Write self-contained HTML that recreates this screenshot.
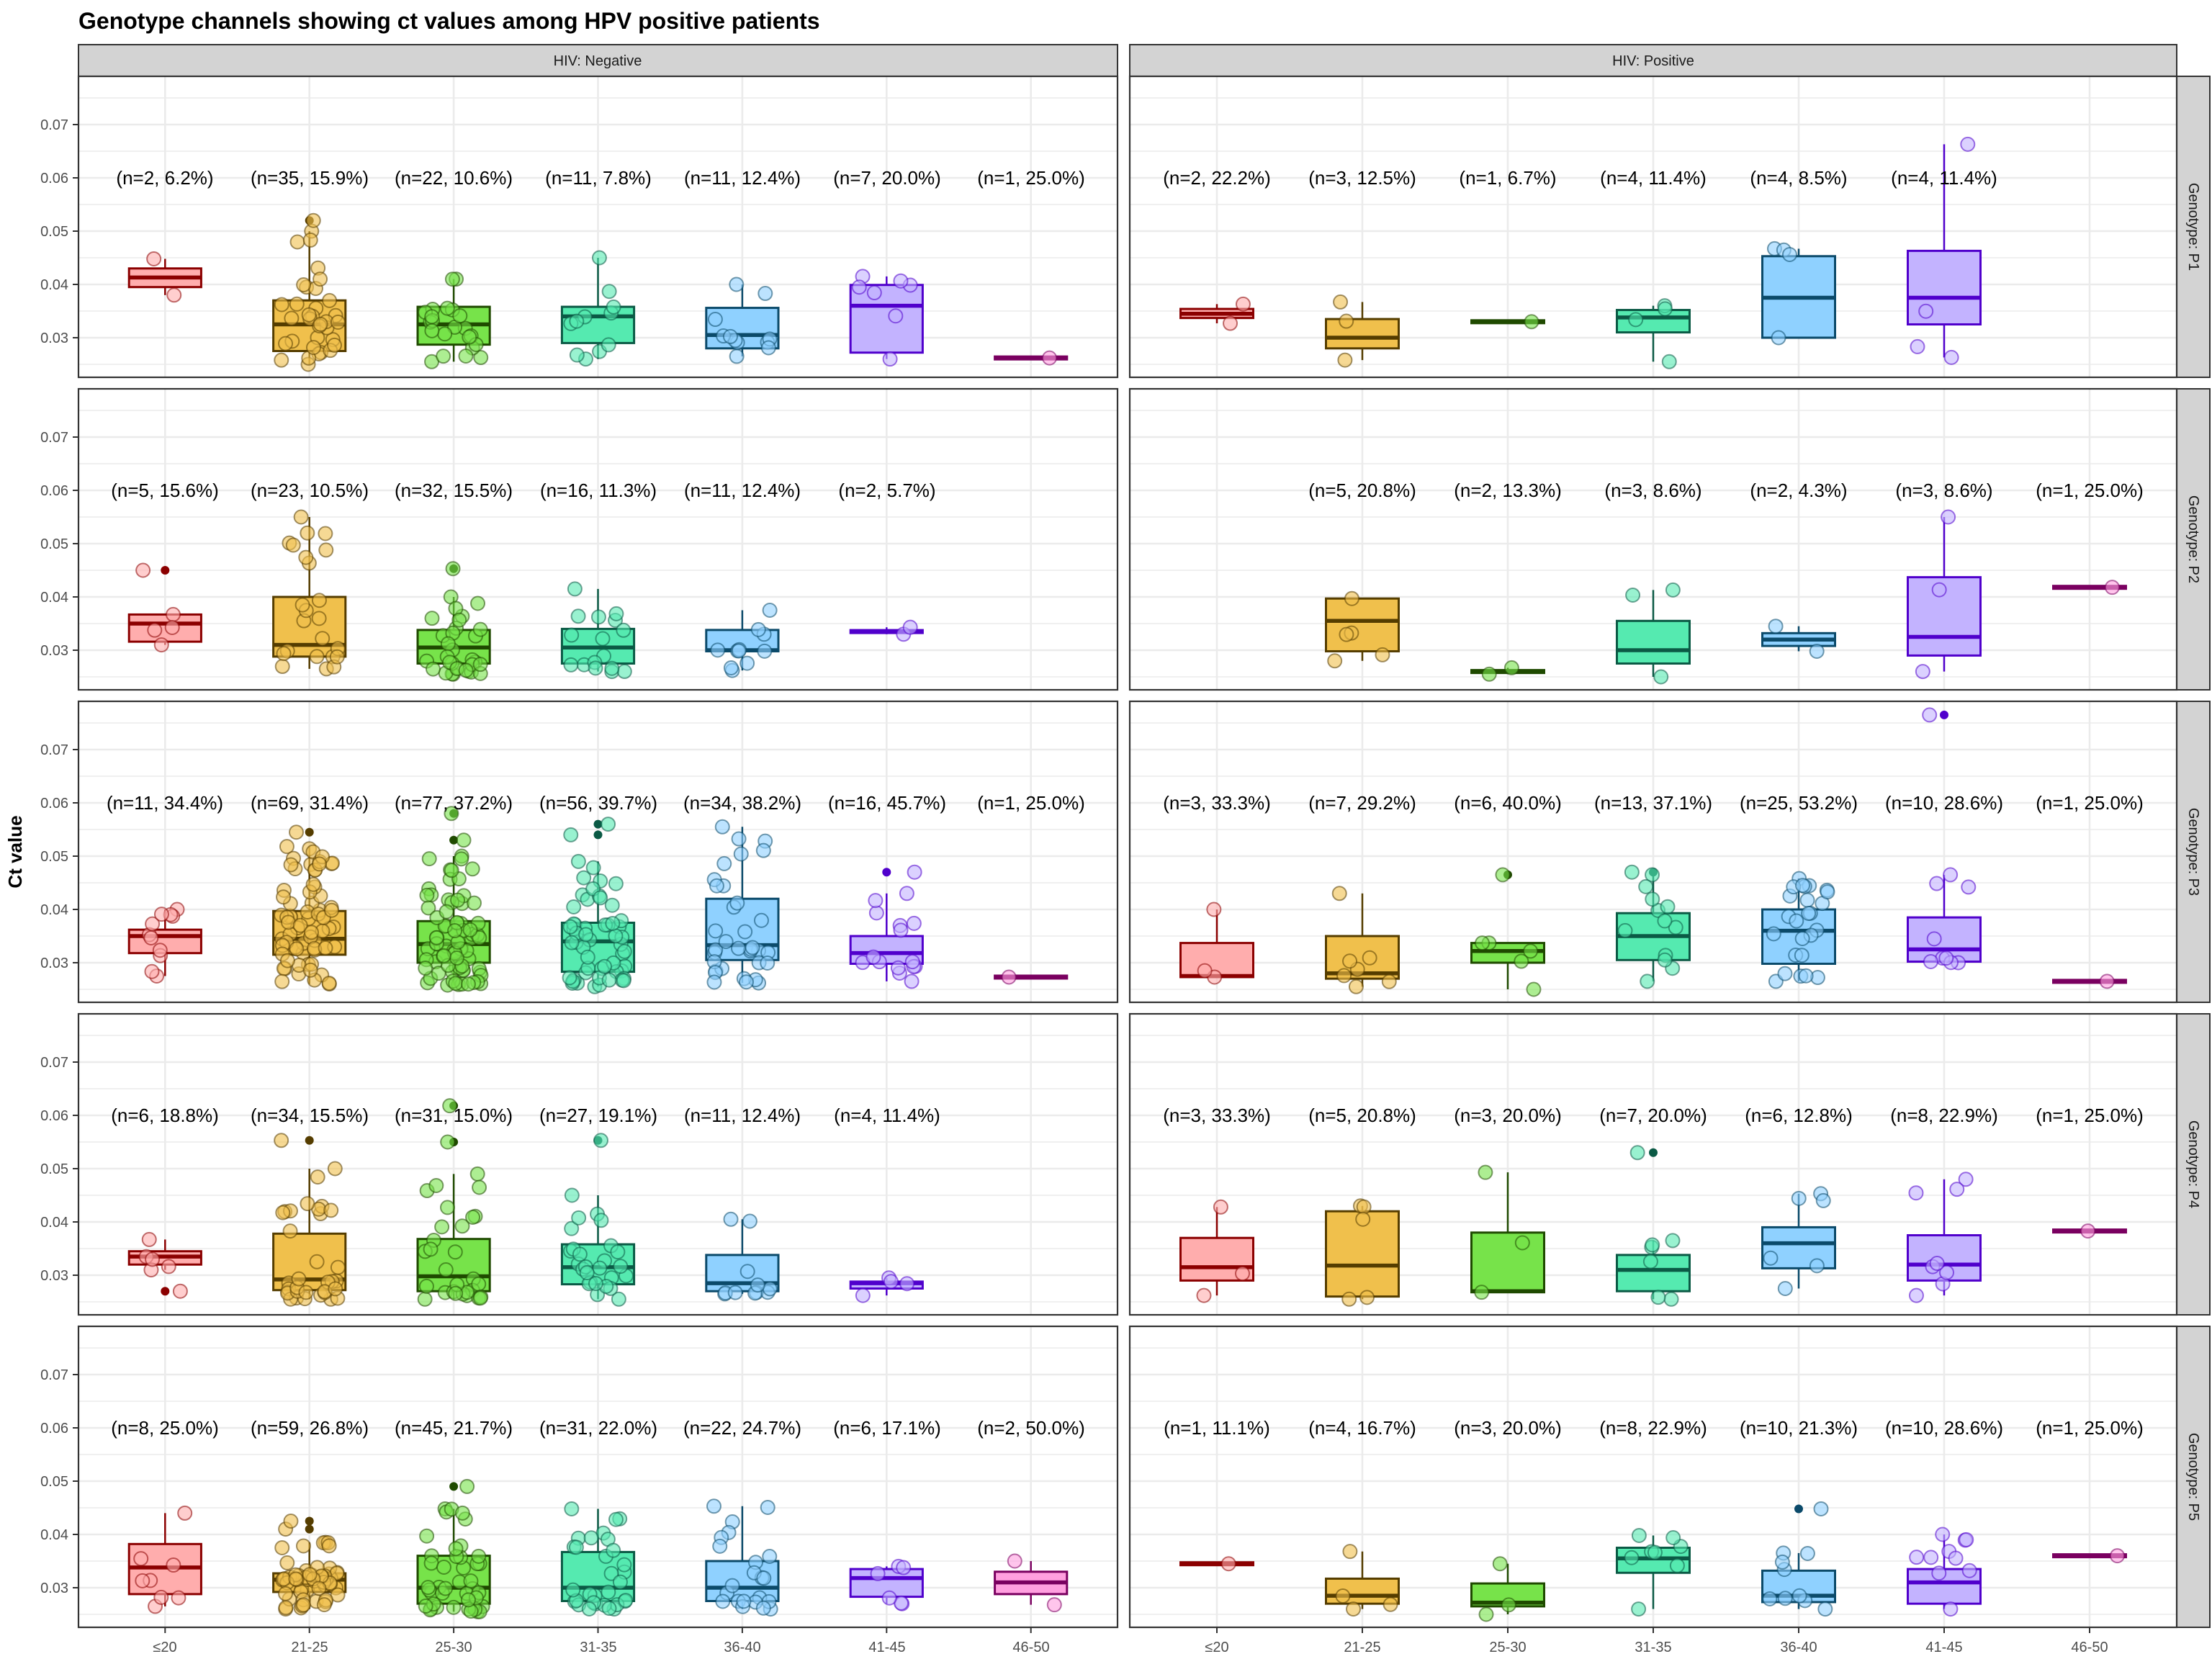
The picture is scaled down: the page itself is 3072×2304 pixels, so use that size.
<!DOCTYPE html>
<html><head><meta charset="utf-8">
<style>
html,body{margin:0;padding:0;background:#fff;}
svg{display:block;}
text{font-family:"Liberation Sans",sans-serif;}
</style></head>
<body>
<svg id="s" width="3072" height="2304" viewBox="0 0 3072 2304" xmlns="http://www.w3.org/2000/svg">
<g id="bg"></g>
<g id="fg"></g>
<g id="labels" font-size="26" fill="#000" text-anchor="middle">
<!-- Row 1 P1 -->
<text x="229" y="256">(n=2, 6.2%)</text><text x="430" y="256">(n=35, 15.9%)</text><text x="630" y="256">(n=22, 10.6%)</text><text x="831" y="256">(n=11, 7.8%)</text><text x="1031" y="256">(n=11, 12.4%)</text><text x="1232" y="256">(n=7, 20.0%)</text><text x="1432" y="256">(n=1, 25.0%)</text>
<text x="1690" y="256">(n=2, 22.2%)</text><text x="1892" y="256">(n=3, 12.5%)</text><text x="2094" y="256">(n=1, 6.7%)</text><text x="2296" y="256">(n=4, 11.4%)</text><text x="2498" y="256">(n=4, 8.5%)</text><text x="2700" y="256">(n=4, 11.4%)</text>
<!-- Row 2 P2 -->
<text x="229" y="690">(n=5, 15.6%)</text><text x="430" y="690">(n=23, 10.5%)</text><text x="630" y="690">(n=32, 15.5%)</text><text x="831" y="690">(n=16, 11.3%)</text><text x="1031" y="690">(n=11, 12.4%)</text><text x="1232" y="690">(n=2, 5.7%)</text>
<text x="1892" y="690">(n=5, 20.8%)</text><text x="2094" y="690">(n=2, 13.3%)</text><text x="2296" y="690">(n=3, 8.6%)</text><text x="2498" y="690">(n=2, 4.3%)</text><text x="2700" y="690">(n=3, 8.6%)</text><text x="2902" y="690">(n=1, 25.0%)</text>
<!-- Row 3 P3 -->
<text x="229" y="1124">(n=11, 34.4%)</text><text x="430" y="1124">(n=69, 31.4%)</text><text x="630" y="1124">(n=77, 37.2%)</text><text x="831" y="1124">(n=56, 39.7%)</text><text x="1031" y="1124">(n=34, 38.2%)</text><text x="1232" y="1124">(n=16, 45.7%)</text><text x="1432" y="1124">(n=1, 25.0%)</text>
<text x="1690" y="1124">(n=3, 33.3%)</text><text x="1892" y="1124">(n=7, 29.2%)</text><text x="2094" y="1124">(n=6, 40.0%)</text><text x="2296" y="1124">(n=13, 37.1%)</text><text x="2498" y="1124">(n=25, 53.2%)</text><text x="2700" y="1124">(n=10, 28.6%)</text><text x="2902" y="1124">(n=1, 25.0%)</text>
<!-- Row 4 P4 -->
<text x="229" y="1558">(n=6, 18.8%)</text><text x="430" y="1558">(n=34, 15.5%)</text><text x="630" y="1558">(n=31, 15.0%)</text><text x="831" y="1558">(n=27, 19.1%)</text><text x="1031" y="1558">(n=11, 12.4%)</text><text x="1232" y="1558">(n=4, 11.4%)</text>
<text x="1690" y="1558">(n=3, 33.3%)</text><text x="1892" y="1558">(n=5, 20.8%)</text><text x="2094" y="1558">(n=3, 20.0%)</text><text x="2296" y="1558">(n=7, 20.0%)</text><text x="2498" y="1558">(n=6, 12.8%)</text><text x="2700" y="1558">(n=8, 22.9%)</text><text x="2902" y="1558">(n=1, 25.0%)</text>
<!-- Row 5 P5 -->
<text x="229" y="1992">(n=8, 25.0%)</text><text x="430" y="1992">(n=59, 26.8%)</text><text x="630" y="1992">(n=45, 21.7%)</text><text x="831" y="1992">(n=31, 22.0%)</text><text x="1031" y="1992">(n=22, 24.7%)</text><text x="1232" y="1992">(n=6, 17.1%)</text><text x="1432" y="1992">(n=2, 50.0%)</text>
<text x="1690" y="1992">(n=1, 11.1%)</text><text x="1892" y="1992">(n=4, 16.7%)</text><text x="2094" y="1992">(n=3, 20.0%)</text><text x="2296" y="1992">(n=8, 22.9%)</text><text x="2498" y="1992">(n=10, 21.3%)</text><text x="2700" y="1992">(n=10, 28.6%)</text><text x="2902" y="1992">(n=1, 25.0%)</text>
</g>
<g id="axes" font-size="20" fill="#4d4d4d">
<text x="109" y="40" font-size="32" font-weight="bold" fill="#000">Genotype channels showing ct values among HPV positive patients</text>
<text x="830" y="91" text-anchor="middle" fill="#1a1a1a">HIV: Negative</text>
<text x="2296" y="91" text-anchor="middle" fill="#1a1a1a">HIV: Positive</text>
<text transform="translate(3040,315) rotate(90)" text-anchor="middle" fill="#1a1a1a">Genotype: P1</text>
<text transform="translate(3040,749) rotate(90)" text-anchor="middle" fill="#1a1a1a">Genotype: P2</text>
<text transform="translate(3040,1183) rotate(90)" text-anchor="middle" fill="#1a1a1a">Genotype: P3</text>
<text transform="translate(3040,1617) rotate(90)" text-anchor="middle" fill="#1a1a1a">Genotype: P4</text>
<text transform="translate(3040,2051) rotate(90)" text-anchor="middle" fill="#1a1a1a">Genotype: P5</text>
<text transform="translate(30,1183) rotate(-90)" text-anchor="middle" font-size="26" font-weight="bold" fill="#000">Ct value</text>
<g text-anchor="end">
<text x="95" y="180">0.07</text><text x="95" y="254">0.06</text><text x="95" y="328">0.05</text><text x="95" y="402">0.04</text><text x="95" y="476">0.03</text>
<text x="95" y="614">0.07</text><text x="95" y="688">0.06</text><text x="95" y="762">0.05</text><text x="95" y="836">0.04</text><text x="95" y="910">0.03</text>
<text x="95" y="1048">0.07</text><text x="95" y="1122">0.06</text><text x="95" y="1196">0.05</text><text x="95" y="1270">0.04</text><text x="95" y="1344">0.03</text>
<text x="95" y="1482">0.07</text><text x="95" y="1556">0.06</text><text x="95" y="1630">0.05</text><text x="95" y="1704">0.04</text><text x="95" y="1778">0.03</text>
<text x="95" y="1916">0.07</text><text x="95" y="1990">0.06</text><text x="95" y="2064">0.05</text><text x="95" y="2138">0.04</text><text x="95" y="2212">0.03</text>
</g>
<g text-anchor="middle">
<text x="229" y="2294">≤20</text><text x="430" y="2294">21-25</text><text x="630" y="2294">25-30</text><text x="831" y="2294">31-35</text><text x="1031" y="2294">36-40</text><text x="1232" y="2294">41-45</text><text x="1432" y="2294">46-50</text>
<text x="1690" y="2294">≤20</text><text x="1892" y="2294">21-25</text><text x="2094" y="2294">25-30</text><text x="2296" y="2294">31-35</text><text x="2498" y="2294">36-40</text><text x="2700" y="2294">41-45</text><text x="2902" y="2294">46-50</text>
</g>
</g>
</svg>
<script>
(function(){
var NS="http://www.w3.org/2000/svg";
var bg=document.getElementById('bg'),fg=document.getElementById('fg');
function el(p,t,a){var e=document.createElementNS(NS,t);for(var k in a)e.setAttribute(k,a[k]);p.appendChild(e);return e;}
var panels=[{x0:109,x1:1552,c0:229.3,dc:200.4},{x0:1569,x1:3023,c0:1690,dc:202}];
var T0=106,H=418,P=434;
function Y(r,v){return 469+P*r-(v-0.03)*7400;}
var fills=['#ffadad','#f0c04c','#77e34a','#55eab0','#8fd1ff','#c3b3ff','#ff9fdf'];
var lines=['#8b0000','#553d00','#1f4a00','#0b5a45','#0b4a6a','#5000cc','#7a0060'];
// strips
el(bg,'rect',{x:109,y:62,width:1443,height:44,fill:'#d3d3d3',stroke:'#333',"stroke-width":2});
el(bg,'rect',{x:1569,y:62,width:1454,height:44,fill:'#d3d3d3',stroke:'#333',"stroke-width":2});
for(var r=0;r<5;r++){
  el(bg,'rect',{x:3023,y:T0+P*r,width:46,height:H,fill:'#d3d3d3',stroke:'#333',"stroke-width":2});
  for(var p=0;p<2;p++){
    var pn=panels[p],top=T0+P*r;
    el(bg,'rect',{x:pn.x0,y:top,width:pn.x1-pn.x0,height:H,fill:'#fff'});
    for(var v=0.025;v<0.0795;v+=0.005){
      var major=Math.abs(Math.round(v*1000)%10)<1;
      var yy=Y(r,v);
      el(bg,'line',{x1:pn.x0,x2:pn.x1,y1:yy,y2:yy,stroke:'#ebebeb',"stroke-width":major?2.6:1.4});
    }
    for(var i=0;i<7;i++){var xx=pn.c0+pn.dc*i;el(bg,'line',{x1:xx,x2:xx,y1:top,y2:top+H,stroke:'#ebebeb',"stroke-width":2.6});}
  }
  for(var t=3;t<=7;t++){var yy=Y(r,t/100);el(bg,'line',{x1:101,x2:109,y1:yy,y2:yy,stroke:'#333',"stroke-width":2});}
}
for(var p=0;p<2;p++)for(var i=0;i<7;i++){var xx=panels[p].c0+panels[p].dc*i;el(bg,'line',{x1:xx,x2:xx,y1:2260,y2:2268,stroke:'#333',"stroke-width":2});}
// data: [q1,med,q3,lo,hi,n,outliers]
var D=[
[ // P1
 [[0.0395,0.0413,0.043,0.038,0.0448,2],[0.0275,0.0325,0.037,0.025,0.050,35,[0.052]],[0.0287,0.0325,0.0358,0.0255,0.041,22],[0.029,0.034,0.0358,0.026,0.045,11],[0.028,0.0305,0.0356,0.0265,0.040,11],[0.0272,0.036,0.0399,0.026,0.0415,7],[0.0262,0.0262,0.0262,0.0262,0.0262,1]],
 [[0.0337,0.0345,0.0354,0.0327,0.0363,2],[0.028,0.030,0.0335,0.0258,0.0367,3],[0.033,0.033,0.033,0.033,0.033,1],[0.031,0.0338,0.0352,0.0255,0.036,4],[0.030,0.0375,0.0453,0.030,0.0467,4],[0.0325,0.0375,0.0463,0.0263,0.0663,4],null]
],
[ // P2
 [[0.0316,0.035,0.0367,0.031,0.0367,5,[0.045]],[0.0288,0.031,0.040,0.0265,0.055,23],[0.0275,0.0305,0.0338,0.0255,0.040,32,[0.0453]],[0.0275,0.0305,0.034,0.026,0.0415,16],[0.0298,0.030,0.0338,0.0262,0.0375,11],[0.0335,0.0335,0.0335,0.033,0.0343,2],null],
 [null,[0.0298,0.0355,0.0397,0.028,0.0397,5],[0.026,0.026,0.026,0.0255,0.0267,2],[0.0275,0.030,0.0355,0.025,0.0413,3],[0.0308,0.032,0.0332,0.0298,0.0345,2],[0.029,0.0325,0.0437,0.026,0.055,3],[0.0418,0.0418,0.0418,0.0418,0.0418,1]]
],
[ // P3
 [[0.0318,0.035,0.0362,0.0275,0.040,11],[0.0315,0.0345,0.0397,0.026,0.0518,69,[0.0545]],[0.030,0.0335,0.0378,0.0258,0.050,77,[0.053,0.058]],[0.0283,0.034,0.0375,0.0255,0.049,56,[0.054,0.056]],[0.0305,0.0333,0.042,0.0262,0.0555,34],[0.0298,0.0318,0.035,0.0265,0.043,16,[0.047]],[0.0273,0.0273,0.0273,0.0273,0.0273,1]],
 [[0.0273,0.0275,0.0337,0.0273,0.040,3],[0.027,0.028,0.035,0.0255,0.043,7],[0.030,0.0322,0.0337,0.025,0.0337,6,[0.0465]],[0.0305,0.035,0.0393,0.0265,0.0465,13,[0.047]],[0.0298,0.036,0.040,0.0265,0.0458,25],[0.0302,0.0325,0.0385,0.030,0.0465,10,[0.0765]],[0.0265,0.0265,0.0265,0.0265,0.0265,1]]
],
[ // P4
 [[0.032,0.0335,0.0345,0.031,0.0367,6,[0.027]],[0.0272,0.0292,0.0378,0.0255,0.050,34,[0.0553]],[0.027,0.0298,0.0368,0.0255,0.049,31,[0.055,0.0618]],[0.0283,0.0315,0.0358,0.0255,0.045,27,[0.0553]],[0.027,0.0285,0.0338,0.0265,0.0405,11],[0.0275,0.0285,0.0288,0.0262,0.0295,4],null],
 [[0.029,0.0315,0.037,0.0262,0.0428,3],[0.026,0.0318,0.042,0.0255,0.043,5],[0.0268,0.027,0.038,0.0268,0.0493,3],[0.027,0.031,0.0338,0.0255,0.0365,7,[0.053]],[0.0313,0.036,0.039,0.0275,0.0453,6],[0.029,0.032,0.0375,0.0262,0.048,8],[0.0383,0.0383,0.0383,0.0383,0.0383,1]]
],
[ // P5
 [[0.0288,0.0338,0.0382,0.0265,0.044,8],[0.0292,0.0315,0.0327,0.026,0.0385,59,[0.041,0.0425]],[0.027,0.030,0.036,0.0255,0.0448,45,[0.049]],[0.0275,0.030,0.0367,0.026,0.0448,31],[0.0275,0.030,0.035,0.026,0.0453,22],[0.0283,0.0318,0.0335,0.027,0.034,6],[0.0288,0.031,0.033,0.0268,0.035,2]],
 [[0.0345,0.0345,0.0345,0.0345,0.0345,1],[0.027,0.0285,0.0317,0.026,0.0368,4],[0.0265,0.0272,0.0308,0.025,0.0345,3],[0.0328,0.0355,0.0375,0.026,0.0398,8],[0.0273,0.0285,0.0332,0.026,0.0365,10,[0.0448]],[0.027,0.031,0.0335,0.026,0.040,10],[0.036,0.036,0.036,0.036,0.036,1]]
]];
var seed=12345;function rnd(){seed=(seed*1103515245+12345)%2147483648;return seed/2147483648;}
for(var r=0;r<5;r++)for(var p=0;p<2;p++)for(var i=0;i<7;i++){
  var d=D[r][p][i];if(!d)continue;
  var pn=panels[p],cx=pn.c0+pn.dc*i,hw=pn.dc*0.25;
  var q1=d[0],md=d[1],q3=d[2],lo=d[3],hi=d[4],n=d[5],out=d[6]||[];
  var fc=fills[i],lc=lines[i];
  var g=el(fg,'g',{});
  // whiskers
  el(g,'line',{x1:cx,x2:cx,y1:Y(r,hi),y2:Y(r,q3),stroke:lc,"stroke-width":2.5});
  el(g,'line',{x1:cx,x2:cx,y1:Y(r,q1),y2:Y(r,lo),stroke:lc,"stroke-width":2.5});
  out.forEach(function(o){el(g,'circle',{cx:cx,cy:Y(r,o),r:6,fill:lc});});
  var bh=Math.max(Y(r,q1)-Y(r,q3),4);
  el(g,'rect',{x:cx-hw,y:Y(r,q3)-(bh==4?2:0),width:2*hw,height:bh,fill:fc,stroke:lc,"stroke-width":3});
  el(g,'line',{x1:cx-hw,x2:cx+hw,y1:Y(r,md),y2:Y(r,md),stroke:lc,"stroke-width":5.5});
  // points
  var vals=[];
  if(n==1)vals=[md];
  else{vals.push(lo);vals.push(hi);
    for(var k=2;k<n;k++){
      var u=rnd(),v;
      if(u<0.25)v=lo+(q1-lo)*rnd();else if(u<0.5)v=q1+(md-q1)*rnd();else if(u<0.75)v=md+(q3-md)*rnd();else v=q3+(hi-q3)*rnd();
      vals.push(v);}
    out.forEach(function(o){vals[vals.length>2?2+Math.floor(rnd()*(vals.length-2)):0]=o;});
  }
  vals.forEach(function(v){
    var jx=cx+(rnd()*2-1)*pn.dc*0.2;
    el(g,'circle',{cx:jx,cy:Y(r,v),r:9.5,fill:fc,"fill-opacity":0.6,stroke:lc,"stroke-opacity":0.55,"stroke-width":2});
  });
}
// panel borders on top
for(var r=0;r<5;r++)for(var p=0;p<2;p++){var pn=panels[p];el(fg,'rect',{x:pn.x0,y:T0+P*r,width:pn.x1-pn.x0,height:H,fill:'none',stroke:'#333',"stroke-width":2.2});}
})();
</script>
</body></html>
